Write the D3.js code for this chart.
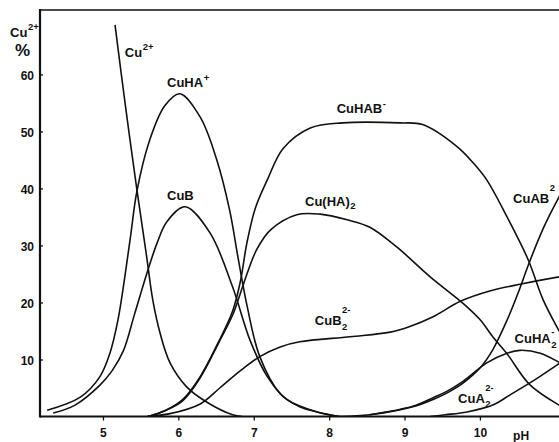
<!DOCTYPE html>
<html lang="en">
<head>
<meta charset="UTF-8">
<title>Cu(II) species distribution vs pH</title>
<script src="https://cdn.jsdelivr.net/npm/d3@7"></script>
<style>
  body { margin: 0; background: #fff; }
  svg text { font-family: "Liberation Sans", Arial, sans-serif; font-weight: bold; fill: #111; }
  .curve { fill: none; stroke: #111; stroke-width: 1.6px; stroke-linejoin: round; }
  .frame { stroke: #111; fill: none; }
</style>
</head>
<body>
<svg id="chart" width="559" height="442"></svg>
<script>
// axis ticks
const phTicks = [5, 6, 7, 8, 9, 10];
const pctTicks = [10, 20, 30, 40, 50, 60];

// species curves (pH, % of total Cu)
const cuFreePH  = [5.16, 5.30, 5.45, 5.58, 5.66, 5.76, 5.89, 6.11, 6.38, 6.72, 6.85];
const cuFreePct = [68.7, 54.3, 39.8, 28.0, 20.5, 14.5, 9.4, 5.2, 2.5, 0.3, 0];

const cuHAPH  = [4.26, 4.70, 4.96, 5.09, 5.20, 5.29, 5.37, 5.45, 5.62, 5.82, 6.02, 6.29, 6.51, 6.68, 6.79, 6.91, 7.08, 7.35, 7.61, 7.84, 8.14];
const cuHAPct = [1.1, 3.4, 7.0, 11.0, 17.0, 24.5, 32.0, 39.5, 48.5, 54.5, 56.6, 52.5, 45.0, 36.2, 28.0, 19.5, 10.5, 4.0, 1.7, 0.8, 0];

const cuBPH  = [4.34, 4.63, 4.96, 5.12, 5.27, 5.42, 5.58, 5.72, 5.85, 6.09, 6.42, 6.72, 6.95, 7.18, 7.44, 7.84, 8.14];
const cuBPct = [0.6, 2.0, 5.5, 8.0, 11.5, 18.0, 25.0, 30.5, 34.2, 36.8, 32.2, 22.7, 13.4, 7.0, 3.0, 0.8, 0];

const cuHABPH  = [5.60, 5.82, 6.06, 6.29, 6.53, 6.72, 6.82, 6.91, 7.02, 7.18, 7.39, 7.75, 8.18, 8.94, 9.24, 9.70, 9.91, 10.09, 10.36, 10.64, 10.84, 11.05, 11.2];
const cuHABPct = [0, 1.0, 3.0, 7.0, 13.0, 18.5, 23.5, 30.5, 36.5, 41.5, 47.0, 50.6, 51.5, 51.5, 51.2, 47.3, 44.5, 41.5, 35.0, 27.5, 20.4, 15.0, 11.5];

const cuHA2PH  = [5.60, 5.82, 6.06, 6.29, 6.53, 6.72, 6.82, 6.91, 7.04, 7.22, 7.57, 7.88, 8.24, 8.54, 8.90, 9.34, 9.78, 10.0, 10.17, 10.36, 10.66, 11.05, 11.2];
const cuHA2Pct = [0, 1.0, 2.8, 6.8, 12.8, 17.8, 21.5, 25.0, 29.3, 32.7, 35.4, 35.5, 34.5, 33.2, 29.7, 24.5, 19.8, 17.0, 14.0, 11.0, 5.6, 2.0, 1.0];

const cuB2PH  = [5.58, 5.89, 6.29, 6.55, 6.82, 7.08, 7.35, 7.61, 8.28, 8.81, 9.07, 9.38, 9.74, 10.13, 10.53, 11.05, 11.2];
const cuB2Pct = [0, 0.5, 2.2, 5.0, 8.0, 10.5, 12.2, 13.1, 14.0, 14.8, 15.8, 17.5, 20.2, 22.0, 23.2, 24.5, 24.8];

const cuABPH  = [8.14, 8.54, 9.11, 9.38, 9.56, 9.78, 10.0, 10.17, 10.36, 10.53, 10.64, 10.84, 11.05, 11.2];
const cuABPct = [0, 0.3, 1.7, 3.0, 4.1, 5.9, 8.5, 11.7, 16.9, 22.5, 26.5, 33.0, 38.5, 42.0];

const cuHA2mPH  = [8.54, 9.11, 9.38, 9.56, 9.78, 10.09, 10.36, 10.53, 10.80, 11.05, 11.2];
const cuHA2mPct = [0.3, 1.8, 3.3, 4.4, 6.2, 9.4, 11.1, 11.6, 11.1, 9.5, 8.3];

const cuA2PH  = [9.34, 9.54, 9.83, 10.17, 10.40, 10.70, 11.02, 11.2];
const cuA2Pct = [0, 0.3, 0.8, 2.0, 3.8, 6.2, 9.0, 10.5];

// curve labels: text, sub, sup, anchor (pH, %), sub/sup offsets in px
const labels = [
  { base: "Cu",     sup: "2+", ph: 5.29,  pct: 63.1, supDy: -7 },
  { base: "CuHA",   sup: "+",  ph: 5.85,  pct: 57.8, supDy: -6 },
  { base: "CuB",               ph: 5.85,  pct: 38.0 },
  { base: "CuHAB",  sup: "-",  ph: 8.10,  pct: 53.2, supDy: -6 },
  { base: "Cu(HA)", sub: "2",  ph: 7.68,  pct: 36.9, subDy: 3 },
  { base: "CuAB",   sup: "2",  ph: 10.44, pct: 37.5, supDy: -12 },
  { base: "CuB",    sub: "2", sup: "2-", ph: 7.81, pct: 16.1, subDy: 5, supDy: -12 },
  { base: "CuHA",   sub: "2", sup: "-",  ph: 10.46, pct: 12.9, subDy: 5, supDy: -8 },
  { base: "CuA",    sub: "2", sup: "2-", ph: 9.71, pct: 2.4, subDy: 4, supDy: -12 }
];

const svg = d3.select("#chart");

const x = d3.scaleLinear().domain([4.165, 11.2]).range([40, 570.4]);
const y = d3.scaleLinear().domain([0, 71.3]).range([416.5, 10]);

// keep curves inside the plot box (spline tails may dip below zero)
svg.append("clipPath").attr("id", "plot")
  .append("rect")
  .attr("x", x(4.165)).attr("y", y(71.3))
  .attr("width", x(11.2) - x(4.165)).attr("height", y(0) - y(71.3));

// frame: left axis, top line, bottom axis
svg.append("line").attr("class", "frame")
  .attr("x1", x(4.165)).attr("x2", x(11.2))
  .attr("y1", y(71.3)).attr("y2", y(71.3))
  .attr("stroke-width", 1.6);
svg.append("line").attr("class", "frame")
  .attr("x1", x(4.165)).attr("x2", x(4.165))
  .attr("y1", y(71.3) - 1).attr("y2", y(0) + 1)
  .attr("stroke-width", 2.2);
svg.append("line").attr("class", "frame")
  .attr("x1", x(4.165)).attr("x2", x(11.2))
  .attr("y1", y(0)).attr("y2", y(0))
  .attr("stroke-width", 2);

const xAxis = svg.append("g")
  .attr("transform", `translate(0,${y(0)})`)
  .call(d3.axisBottom(x).tickValues(phTicks).tickSize(4).tickPadding(8).tickFormat(d3.format("d")));
xAxis.select(".domain").remove();
xAxis.selectAll("text").attr("font-size", 12).attr("fill", "#111");
xAxis.selectAll("line").attr("stroke", "#111").attr("stroke-width", 1.3);

const yAxis = svg.append("g")
  .attr("transform", `translate(${x(4.165)},0)`)
  .call(d3.axisLeft(y).tickValues(pctTicks).tickSize(-3).tickPadding(6).tickFormat(d3.format("d")));
yAxis.select(".domain").remove();
yAxis.selectAll("text").attr("font-size", 12).attr("fill", "#111").attr("dy", "0.4em");
yAxis.selectAll("line").attr("stroke", "#111").attr("stroke-width", 1.3);

// y title
svg.append("text").attr("x", 10).attr("y", 37).attr("font-size", 13).text("Cu");
svg.append("text").attr("x", 28).attr("y", 30).attr("font-size", 9.5).text("2+");
svg.append("text").attr("x", 15).attr("y", 56).attr("font-size", 17).text("%");

// x title
svg.append("text").attr("x", x(10.44)).attr("y", 440).attr("font-size", 12).text("pH");

// curves
const line = d3.line()
  .x(d => x(d[0]))
  .y(d => y(d[1]))
  .curve(d3.curveCatmullRom.alpha(0.5));

const series = [
  [cuFreePH, cuFreePct],
  [cuHAPH, cuHAPct],
  [cuBPH, cuBPct],
  [cuHABPH, cuHABPct],
  [cuHA2PH, cuHA2Pct],
  [cuB2PH, cuB2Pct],
  [cuABPH, cuABPct],
  [cuHA2mPH, cuHA2mPct],
  [cuA2PH, cuA2Pct]
];

svg.append("g")
  .attr("clip-path", "url(#plot)")
  .selectAll("path")
  .data(series)
  .join("path")
  .attr("class", "curve")
  .attr("d", s => line(d3.zip(s[0], s[1])));

// labels with sub/superscripts stacked
const lg = svg.append("g");
labels.forEach(l => {
  const px = x(l.ph), py = y(l.pct);
  const t = lg.append("text").attr("x", px).attr("y", py).attr("font-size", 13).text(l.base);
  const w = t.node().getComputedTextLength();
  if (l.sub) lg.append("text").attr("x", px + w + 0.5).attr("y", py + l.subDy).attr("font-size", 9.5).text(l.sub);
  if (l.sup) lg.append("text").attr("x", px + w + 0.5).attr("y", py + l.supDy).attr("font-size", 9.5).text(l.sup);
});
</script>
</body>
</html>
